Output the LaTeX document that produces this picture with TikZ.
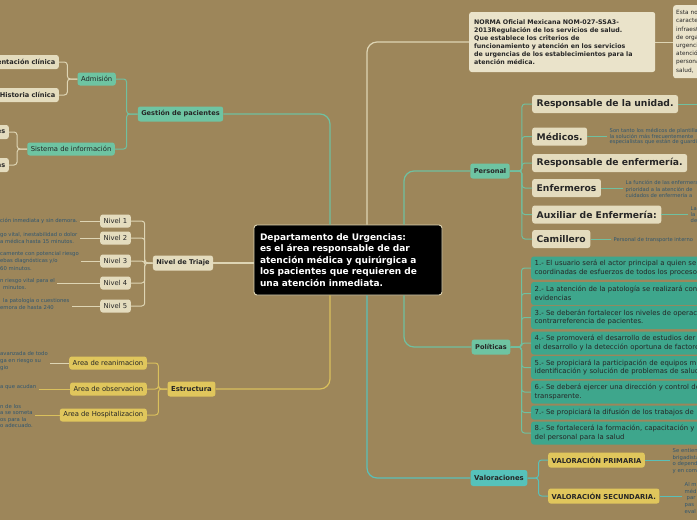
\documentclass[tikz,border=0pt]{standalone}
\usepackage{fontspec}
\setmainfont{DejaVu Sans}
\usepackage{xcolor}
\usepackage{tikz}

\definecolor{mapbg}{RGB}{157,134,90}
\definecolor{mapteal}{RGB}{110,196,162}
\definecolor{mappol}{RGB}{62,166,140}
\definecolor{mapcyan}{RGB}{86,194,186}
\definecolor{mapcream}{RGB}{228,220,190}
\definecolor{mapcreamlt}{RGB}{234,227,202}
\definecolor{mapyellow}{RGB}{224,198,92}
\definecolor{mapdesc}{RGB}{48,86,112}
\definecolor{linecream}{RGB}{222,213,180}
\definecolor{lineteal}{RGB}{112,192,160}
\definecolor{lineyellow}{RGB}{218,192,92}
\definecolor{linecyan}{RGB}{90,192,184}

\begin{document}
\begin{tikzpicture}[x=1pt,y=-1pt,line join=round,
  mapnode/.style={rounded corners=2.5pt,inner xsep=3.5pt,inner ysep=2pt,text=black!85},
  tealnode/.style={mapnode,fill=mapteal,minimum height=13pt},
  creamnode/.style={mapnode,fill=mapcream,minimum height=14pt},
  yellownode/.style={mapnode,fill=mapyellow,minimum height=14pt},
  smalltext/.style={font=\fontsize{6.8}{8}\selectfont},
  smallbold/.style={font=\fontsize{6.6}{7.5}\selectfont\bfseries},
  bigitem/.style={creamnode,font=\fontsize{9.2}{11}\selectfont\bfseries,minimum height=18pt,inner xsep=4.5pt},
  centre/.style={fill=black,draw=linecream,line width=0.9pt,rounded corners=3pt,text=white,
    font=\fontsize{9}{11.6}\selectfont\bfseries,align=left,text width=176pt,
    minimum height=70pt,inner xsep=6pt},
  policy/.style={mapnode,fill=mappol,text width=200pt,align=left,minimum height=23pt,
    inner xsep=3.5pt,font=\fontsize{6.9}{8.8}\selectfont},
  desc/.style={text=mapdesc,font=\fontsize{5.3}{6.6}\selectfont,align=left,inner xsep=2.5pt,inner ysep=0pt},
  descwide/.style={desc,font=\fontsize{5.3}{7.3}\selectfont},
  mainline/.style={line width=1.2pt,rounded corners=10pt},
  subline/.style={line width=1pt,rounded corners=3pt},
  descline/.style={line width=0.8pt}]
  \useasboundingbox (0,0) rectangle (697,520);
  \fill[mapbg] (0,0) rectangle (697,520);
  \coordinate (edgeR) at (697,0);

  % centro
  \node[centre] (dep) at (348,260) {Departamento de Urgencias:\\es el área responsable de dar\\atención médica y quirúrgica a\\los pacientes que requieren de\\una atención inmediata.};

  % gestion de pacientes
  \node[tealnode,smallbold,minimum height=15pt] (gest) at (180.5,114) {Gestión de pacientes};
  \node[tealnode,smalltext,anchor=east] (adm) at (116,79) {Admisión};
  \node[tealnode,smalltext,anchor=east] (sis) at (115,149) {Sistema de información};
  \node[creamnode,smallbold,anchor=east] (doc) at (59,62) {Documentación clínica};
  \node[creamnode,smallbold,anchor=east] (hist) at (59,95) {Historia clínica};
  \node[creamnode,smallbold,anchor=east] (rep) at (9,132) {Reportes};
  \node[creamnode,smallbold,anchor=east] (est) at (9,165) {Estadísticas};
  \draw[lineteal,mainline] ([xshift=-18pt]dep.north) |- (gest.east);
  \draw[lineteal,subline] (gest.west) -- ++(-11,0) |- (adm.east);
  \draw[lineteal,subline] (gest.west) -- ++(-11,0) |- (sis.east);
  \draw[linecream,subline] (adm.west) -- ++(-10,0) |- (doc.east);
  \draw[linecream,subline] (adm.west) -- ++(-10,0) |- (hist.east);
  \draw[linecream,subline] (sis.west) -- ++(-10,0) |- (rep.east);
  \draw[linecream,subline] (sis.west) -- ++(-10,0) |- (est.east);

  % nivel de triaje
  \node[creamnode,smallbold,minimum height=15pt] (tri) at (183,263) {Nivel de Triaje};
  \node[creamnode,smalltext,anchor=east,minimum height=13pt] (n1) at (131,221) {Nivel 1};
  \node[creamnode,smalltext,anchor=east,minimum height=13pt] (n2) at (131,238) {Nivel 2};
  \node[creamnode,smalltext,anchor=east,minimum height=13pt] (n3) at (131,261) {Nivel 3};
  \node[creamnode,smalltext,anchor=east,minimum height=13pt] (n4) at (131,283) {Nivel 4};
  \node[creamnode,smalltext,anchor=east,minimum height=13pt] (n5) at (131,306) {Nivel 5};
  \node[descwide,anchor=west] (d1) at (-2.5,221) {ción inmediata y sin demora.};
  \node[descwide,anchor=west] (d2) at (-2.5,238) {go vital, inestabilidad o dolor\\a médica hasta 15 minutos.};
  \node[descwide,anchor=west] (d3) at (-2.5,261) {camente con potencial riesgo\\ebas diagnósticas y/o\\60 minutos.};
  \node[descwide,anchor=west] (d4) at (-2.5,284) {n riesgo vital para el\\\hspace{3pt}minutos.};
  \node[descwide,anchor=west] (d5) at (-2.5,304) {\hspace{3pt}la patología o cuestiones\\emora de hasta 240};
  \draw[linecream,line width=1.2pt] (tri.east) -- (tri.east -| dep.west);
  \draw[linecream,subline] (tri.west) -- ++(-8,0) |- (n1.east);
  \draw[linecream,subline] (tri.west) -- ++(-8,0) |- (n2.east);
  \draw[linecream,subline] (tri.west) -- ++(-8,0) |- (n3.east);
  \draw[linecream,subline] (tri.west) -- ++(-8,0) |- (n4.east);
  \draw[linecream,subline] (tri.west) -- ++(-8,0) |- (n5.east);
  \draw[linecream,descline] (n1.west) -- (n1.west -| d1.east);
  \draw[linecream,descline] (n2.west) -- (n2.west -| d2.east);
  \draw[linecream,descline] (n3.west) -- (n3.west -| d3.east);
  \draw[linecream,descline] (n4.west) -- (n4.west -| d4.east);
  \draw[linecream,descline] (n5.west) -- (n5.west -| d5.east);

  % estructura
  \node[yellownode,font=\fontsize{6.9}{8}\selectfont\bfseries,minimum height=15pt] (estr) at (191.5,389) {Estructura};
  \node[yellownode,smalltext,anchor=east,minimum height=13pt] (a1) at (147,363) {Area de reanimacion};
  \node[yellownode,smalltext,anchor=east,minimum height=13pt] (a2) at (147,389) {Area de observacion};
  \node[yellownode,smalltext,anchor=east,minimum height=13pt] (a3) at (147,415) {Area de Hospitalizacion};
  \node[desc,anchor=west] (e1) at (-2.5,361) {avanzada de todo\\ga en riesgo su\\gio};
  \node[desc,anchor=west] (e2) at (-2.5,387) {a que acudan};
  \node[desc,anchor=west] (e3) at (-2.5,416) {n de los\\a se someta\\os para la\\o adecuado.};
  \draw[lineyellow,mainline] ([xshift=-18pt]dep.south) |- (estr.east);
  \draw[lineyellow,subline] (estr.west) -- ++(-9,0) |- (a1.east);
  \draw[lineyellow,subline] (estr.west) -- ++(-9,0) |- (a2.east);
  \draw[lineyellow,subline] (estr.west) -- ++(-9,0) |- (a3.east);
  \draw[linecream,descline] (a1.west) -- (a1.west -| e1.east);
  \draw[lineyellow,descline] (a2.west) -- (a2.west -| e2.east);
  \draw[lineyellow,descline] (a3.west) -- (a3.west -| e3.east);

  % norma
  \node[mapnode,fill=mapcreamlt,anchor=west,align=left,text width=176pt,minimum height=60pt,
    inner xsep=5pt,font=\fontsize{6.3}{7.9}\selectfont\bfseries] (norma) at (469,42)
    {NORMA Oficial Mexicana NOM-027-SSA3-\\2013Regulación de los servicios de salud.\\Que establece los criterios de\\funcionamiento y atención en los servicios\\de urgencias de los establecimientos para la\\atención médica.};
  \node[mapnode,fill=mapcreamlt,anchor=north west,align=left,text width=70pt,minimum height=73pt,
    inner xsep=3pt,font=\fontsize{5.8}{8.2}\selectfont] (esta) at (673,5)
    {Esta norma\\características\\infraestructura\\de organización\\urgencias\\atención\\personal\\salud,};
  \draw[linecream,mainline] ([xshift=19pt]dep.north) |- (norma.west);
  \draw[linecream,descline] (norma.east) -- (esta.west |- norma.east);

  % personal
  \node[tealnode,smallbold,minimum height=15pt] (pers) at (490,171) {Personal};
  \node[bigitem,anchor=west] (r1) at (532,104) {Responsable de la unidad.};
  \node[bigitem,anchor=west] (r2) at (532,136.5) {Médicos.};
  \node[bigitem,anchor=west] (r3) at (532,163) {Responsable de enfermería.};
  \node[bigitem,anchor=west] (r4) at (532,188) {Enfermeros};
  \node[bigitem,anchor=west] (r5) at (532,214.5) {Auxiliar de Enfermería:};
  \node[bigitem,anchor=west] (r6) at (532,239) {Camillero};
  \node[desc,font=\fontsize{5.2}{5.9}\selectfont,anchor=west] (m2) at (607,136.5) {Son tanto los médicos de plantilla\\la solución más frecuentemente\\especialistas que están de guardia};
  \node[desc,font=\fontsize{5.2}{6.3}\selectfont,anchor=west] (m4) at (623,189) {La función de las enfermeras\\prioridad a la atención de\\cuidados de enfermería a};
  \node[desc,font=\fontsize{5.2}{6.3}\selectfont,anchor=west] (m5) at (688,214.5) {La\\la\\de};
  \node[desc,font=\fontsize{5.2}{6}\selectfont,anchor=west] (m6) at (611,240) {Personal de transporte interno};
  \draw[lineteal,mainline] ([xshift=56pt]dep.north) |- (pers.west);
  \draw[lineteal,subline] (pers.east) -- ++(12,0) |- (r1.west);
  \draw[lineteal,subline] (pers.east) -- ++(12,0) |- (r2.west);
  \draw[lineteal,subline] (pers.east) -- ++(12,0) |- (r3.west);
  \draw[lineteal,subline] (pers.east) -- ++(12,0) |- (r4.west);
  \draw[lineteal,subline] (pers.east) -- ++(12,0) |- (r5.west);
  \draw[lineteal,subline] (pers.east) -- ++(12,0) |- (r6.west);
  \draw[lineteal,descline] (r1.east) -- (r1.east -| edgeR);
  \draw[lineteal,descline] (r2.east) -- (r2.east -| m2.west);
  \draw[lineteal,descline] (r4.east) -- (r4.east -| m4.west);
  \draw[lineteal,descline] (r5.east) -- (r5.east -| m5.west);
  \draw[lineteal,descline] (r6.east) -- (r6.east -| m6.west);

  % politicas
  \node[tealnode,smallbold,minimum height=15pt] (pol) at (491,347) {Políticas};
  \node[policy,anchor=west] (p1) at (531,268) {1.- El usuario será el actor principal a quien se\\coordinadas de esfuerzos de todos los procesos};
  \node[policy,anchor=west] (p2) at (531,293.5) {2.- La atención de la patología se realizará con\\evidencias};
  \node[policy,anchor=west] (p3) at (531,317.5) {3.- Se deberán fortalecer los niveles de operación\\contrarreferencia de pacientes.};
  \node[policy,anchor=west] (p4) at (531,343) {4.- Se promoverá el desarrollo de estudios der\\el desarrollo y la detección oportuna de factores};
  \node[policy,anchor=west] (p5) at (531,367.5) {5.- Se propiciará la participación de equipos m\\identificación y solución de problemas de salud};
  \node[policy,anchor=west] (p6) at (531,392) {6.- Se deberá ejercer una dirección y control de\\transparente.};
  \node[policy,anchor=west,minimum height=14pt] (p7) at (531,412.5) {7.- Se propiciará la difusión de los trabajos de};
  \node[policy,anchor=west] (p8) at (531,433) {8.- Se fortalecerá la formación, capacitación y\\del personal para la salud};
  \draw[lineteal,mainline] ([xshift=56pt]dep.south) |- (pol.west);
  \draw[lineteal,subline] (pol.east) -- ++(11,0) |- (p1.west);
  \draw[lineteal,subline] (pol.east) -- ++(11,0) |- (p2.west);
  \draw[lineteal,subline] (pol.east) -- ++(11,0) |- (p3.west);
  \draw[lineteal,subline] (pol.east) -- ++(11,0) |- (p4.west);
  \draw[lineteal,subline] (pol.east) -- ++(11,0) |- (p5.west);
  \draw[lineteal,subline] (pol.east) -- ++(11,0) |- (p6.west);
  \draw[lineteal,subline] (pol.east) -- ++(11,0) |- (p7.west);
  \draw[lineteal,subline] (pol.east) -- ++(11,0) |- (p8.west);

  % valoraciones
  \node[mapnode,fill=mapcyan,font=\fontsize{6.9}{8}\selectfont\bfseries,minimum height=16pt] (val) at (499,478) {Valoraciones};
  \node[yellownode,font=\fontsize{6.8}{8}\selectfont\bfseries,anchor=west,minimum height=15pt] (vp) at (548,460) {VALORACIÓN PRIMARIA};
  \node[yellownode,font=\fontsize{6.8}{8}\selectfont\bfseries,anchor=west,minimum height=15pt] (vs) at (548,496) {VALORACIÓN SECUNDARIA.};
  \node[desc,anchor=west] (w1) at (670,461) {Se entiende\\brigadistas\\o dependencia\\y en comunidad};
  \node[desc,anchor=west] (w2) at (682,498) {Al m\\méd\\\hspace{2pt}par\\pas\\eval};
  \draw[linecyan,mainline] ([xshift=19pt]dep.south) |- (val.west);
  \draw[linecyan,subline] (val.east) -- ++(11,0) |- (vp.west);
  \draw[linecyan,subline] (val.east) -- ++(11,0) |- (vs.west);
  \draw[linecyan,descline] (vp.east) -- (vp.east -| w1.west);
  \draw[linecyan,descline] (vs.east) -- (vs.east -| w2.west);
\end{tikzpicture}
\end{document}
